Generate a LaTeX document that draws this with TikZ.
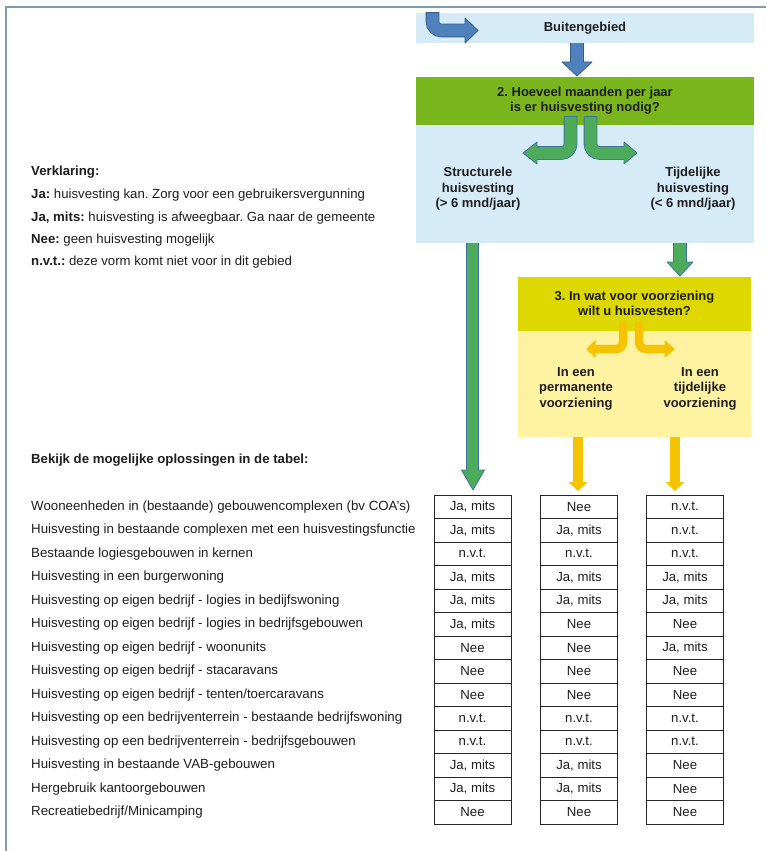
\documentclass[tikz,border=0pt]{standalone}
\usepackage{fontspec}
\setmainfont{Liberation Sans}
\frenchspacing
\definecolor{lblue}{RGB}{214,235,248}
\definecolor{ghead}{RGB}{122,181,29}
\definecolor{bluef}{RGB}{79,129,189}
\definecolor{bluebd}{RGB}{56,93,138}
\definecolor{greenf}{RGB}{76,172,92}
\definecolor{greenbd}{RGB}{65,113,156}
\definecolor{yhead}{RGB}{221,216,0}
\definecolor{lyellow}{RGB}{255,242,161}
\definecolor{yarrow}{RGB}{245,195,0}
\definecolor{frame}{RGB}{127,155,181}
\definecolor{ink}{RGB}{30,30,30}
\begin{document}
\begin{tikzpicture}[x=1pt,y=-1pt,
  txt/.style={text=ink, inner sep=0},
  boldc/.style={txt, font=\bfseries\fontsize{13}{15.5}\selectfont, align=center},
  rowlab/.style={txt, anchor=west, font=\fontsize{13.3}{15}\selectfont},
  legend/.style={txt, anchor=west, font=\fontsize{13.2}{15}\selectfont},
  cell/.style={draw=black!85, line width=0.9pt, minimum width=77pt, minimum height=23.5pt, inner sep=0, text=ink, font=\fontsize{13.2}{15}\selectfont},
  panel/.style={inner sep=0, anchor=north west, draw=none},
  bd/.style={line width=0.8pt, line join=round}]
\useasboundingbox (0,0) rectangle (766,851);

% frame lines
\draw[frame, line width=2pt] (766,7) -- (6,7) -- (6,851);

% panels
\node[panel, fill=lblue, minimum width=338pt, minimum height=30pt] (buiten) at (416,13) {};
\node[boldc] (buitentxt) at (585,28.5) {Buitengebied};
\node[panel, fill=lblue, minimum width=338pt, minimum height=166pt] (q2box) at (416,77) {};
\node[panel, fill=ghead, minimum width=338pt, minimum height=48pt] (q2head) at (416,77) {};
\node[boldc] (q2txt) at (585,100.5) {2. Hoeveel maanden per jaar\\is er huisvesting nodig?};
\node[boldc] (struct) at (478,189) {Structurele\\huisvesting\\(> 6 mnd/jaar)};
\node[boldc] (tijd) at (693,189) {Tijdelijke\\huisvesting\\(< 6 mnd/jaar)};

\node[panel, fill=lyellow, minimum width=233pt, minimum height=160pt] (q3box) at (518,277) {};
\node[panel, fill=yhead, minimum width=233pt, minimum height=54pt] (q3head) at (518,277) {};
\node[boldc] (q3txt) at (634.5,303.5) {3. In wat voor voorziening\\wilt u huisvesten?};
\node[boldc] (perm) at (576,388.5) {In een\\permanente\\voorziening};
\node[boldc] (tijdv) at (700,388.5) {In een\\tijdelijke\\voorziening};

% blue bent arrow
\draw[bluebd, line width=13.6pt, rounded corners=9pt] (432.5,12.2) -- (432.5,30.5) -- (465,30.5);
\filldraw[fill=bluef, draw=bluebd, bd] (465,18) -- (478,30.5) -- (465,43) -- cycle;
\draw[bluef, line width=12pt, rounded corners=9pt] (432.5,13) -- (432.5,30.5) -- (466.5,30.5);

% blue down arrow
\draw[bluebd, line width=13.6pt] (577,43) -- (577,62);
\filldraw[fill=bluef, draw=bluebd, bd] (562,62) -- (592,62) -- (577,76) -- cycle;
\draw[bluef, line width=12pt] (577,43) -- (577,63.5);

% green bent arrows
\draw[greenbd, line width=13.6pt, rounded corners=9pt] (570.5,116.2) -- (570.5,153) -- (537,153);
\filldraw[fill=greenf, draw=greenbd, bd] (537,142) -- (523,153) -- (537,164) -- cycle;
\draw[greenf, line width=12pt, rounded corners=9pt] (570.5,117) -- (570.5,153) -- (535.5,153);
\draw[greenbd, line width=13.6pt, rounded corners=9pt] (590.5,116.2) -- (590.5,153) -- (624,153);
\filldraw[fill=greenf, draw=greenbd, bd] (624,142) -- (637,153) -- (624,164) -- cycle;
\draw[greenf, line width=12pt, rounded corners=9pt] (590.5,117) -- (590.5,153) -- (625.5,153);

% green down arrows
\draw[greenbd, line width=12.4pt] (472.5,243) -- (472.5,470);
\filldraw[fill=greenf, draw=greenbd, bd] (461.5,470) -- (484.5,470) -- (473,490) -- cycle;
\draw[greenf, line width=10.8pt] (472.5,243) -- (472.5,471.5);
\draw[greenbd, line width=13.6pt] (680,243) -- (680,262);
\filldraw[fill=greenf, draw=greenbd, bd] (667,262) -- (693,262) -- (680,276) -- cycle;
\draw[greenf, line width=12pt] (680,243) -- (680,263.5);

% yellow bent arrows
\draw[yarrow, line width=8.5pt, rounded corners=7pt] (623,321) -- (623,349) -- (595,349);
\fill[yarrow] (595.5,340) -- (586,349) -- (595.5,358) -- cycle;
\draw[yarrow, line width=8.5pt, rounded corners=7pt] (639,321) -- (639,349) -- (665,349);
\fill[yarrow] (664.5,340) -- (675,349) -- (664.5,358) -- cycle;

% yellow down arrows
\draw[yarrow, line width=10pt] (578,437) -- (578,482.5);
\fill[yarrow] (568.5,482) -- (587.5,482) -- (578,491) -- cycle;
\draw[yarrow, line width=10pt] (675,437) -- (675,482.5);
\fill[yarrow] (665.5,482) -- (684.5,482) -- (675,491) -- cycle;

% legend
\node[legend, font=\bfseries\fontsize{13.2}{15}\selectfont] (verkl) at (31,172) {Verklaring:};
\node[legend] (lja) at (31,195) {\textbf{Ja:} huisvesting kan. Zorg voor een gebruikersvergunning};
\node[legend] (ljamits) at (31,218) {\textbf{Ja, mits:} huisvesting is afweegbaar. Ga naar de gemeente};
\node[legend] (lnee) at (31,240) {\textbf{Nee:} geen huisvesting mogelijk};
\node[legend] (lnvt) at (31,262) {\textbf{n.v.t.:} deze vorm komt niet voor in dit gebied};
\node[legend, font=\bfseries\fontsize{13.2}{15}\selectfont] (bekijk) at (31,460) {Bekijk de mogelijke oplossingen in de tabel:};

% table
\foreach \lab/\a/\b/\c [count=\i] in {
 {Wooneenheden in (bestaande) gebouwencomplexen (bv COA's)}/{Ja, mits}/Nee/n.v.t.,
 {Huisvesting in bestaande complexen met een huisvestingsfunctie}/{Ja, mits}/{Ja, mits}/n.v.t.,
 {Bestaande logiesgebouwen in kernen}/n.v.t./n.v.t./n.v.t.,
 {Huisvesting in een burgerwoning}/{Ja, mits}/{Ja, mits}/{Ja, mits},
 {Huisvesting op eigen bedrijf - logies in bedijfswoning}/{Ja, mits}/{Ja, mits}/{Ja, mits},
 {Huisvesting op eigen bedrijf - logies in bedrijfsgebouwen}/{Ja, mits}/Nee/Nee,
 {Huisvesting op eigen bedrijf - woonunits}/Nee/Nee/{Ja, mits},
 {Huisvesting op eigen bedrijf - stacaravans}/Nee/Nee/Nee,
 {Huisvesting op eigen bedrijf - tenten/toercaravans}/Nee/Nee/Nee,
 {Huisvesting op een bedrijventerrein - bestaande bedrijfswoning}/n.v.t./n.v.t./n.v.t.,
 {Huisvesting op een bedrijventerrein - bedrijfsgebouwen}/n.v.t./n.v.t./n.v.t.,
 {Huisvesting in bestaande VAB-gebouwen}/{Ja, mits}/{Ja, mits}/Nee,
 {Hergebruik kantoorgebouwen}/{Ja, mits}/{Ja, mits}/Nee,
 {Recreatiebedrijf/Minicamping}/Nee/Nee/Nee}{
  \pgfmathsetmacro{\yy}{483.25+23.5*\i}
  \node[rowlab] (lab-\i) at (31,\yy) {\lab};
  \node[cell] (c1-\i) at (472.5,\yy) {\a};
  \node[cell] (c2-\i) at (579,\yy) {\b};
  \node[cell] (c3-\i) at (685,\yy) {\c};
}
\end{tikzpicture}
\end{document}
